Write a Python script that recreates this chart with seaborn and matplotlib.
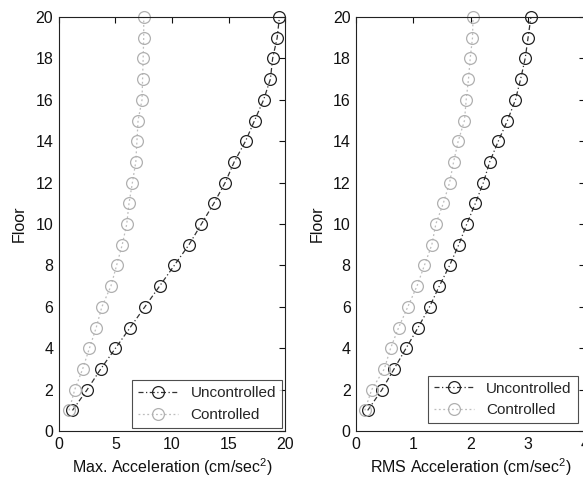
import numpy as np
import pandas as pd
import matplotlib
matplotlib.use("Agg")
import matplotlib.pyplot as plt
import seaborn as sns

floors = list(range(1, 21))
max_uncontrolled = [1.2, 2.5, 3.7, 5.0, 6.3, 7.6, 8.9, 10.2, 11.5, 12.6,
                    13.7, 14.7, 15.5, 16.5, 17.3, 18.1, 18.7, 18.9, 19.3, 19.5]
max_controlled = [0.9, 1.4, 2.1, 2.7, 3.3, 3.8, 4.6, 5.1, 5.6, 6.0,
                  6.2, 6.5, 6.8, 6.9, 7.0, 7.35, 7.4, 7.45, 7.5, 7.5]
rms_uncontrolled = [0.20, 0.45, 0.66, 0.87, 1.08, 1.28, 1.45, 1.63, 1.79, 1.93,
                    2.08, 2.22, 2.33, 2.48, 2.64, 2.78, 2.87, 2.95, 3.00, 3.05]
rms_controlled = [0.15, 0.27, 0.49, 0.60, 0.74, 0.90, 1.06, 1.19, 1.32, 1.39,
                  1.52, 1.63, 1.70, 1.78, 1.89, 1.92, 1.96, 1.99, 2.03, 2.04]
series_names = ["Uncontrolled", "Controlled"]
xlabels = ["Max. Acceleration (cm/sec$^2$)", "RMS Acceleration (cm/sec$^2$)"]
ylabel = "Floor"
xlims = [(0, 20), (0, 4)]
xticks = [[0, 5, 10, 15, 20], [0, 1, 2, 3, 4]]
yticks = list(range(0, 21, 2))

sns.set_theme(style="white")
plt.rcParams["font.family"] = ["Liberation Sans", "DejaVu Sans"]
plt.rcParams["font.size"] = 11.5
plt.rcParams["mathtext.fontset"] = "custom"
plt.rcParams["mathtext.rm"] = "Liberation Sans"

fig = plt.figure(figsize=(5.83, 4.79), dpi=100)
ax1 = fig.add_axes([0.101, 0.100, 0.388, 0.8645])
ax2 = fig.add_axes([0.611, 0.100, 0.393, 0.8645])

data = [(max_uncontrolled, max_controlled), (rms_uncontrolled, rms_controlled)]
styles = [
    dict(color="#333333", linestyle=(0, (4, 2, 1, 2)), lw=0.9, mec="#222222"),
    dict(color="#bdbdbd", linestyle=(0, (1.5, 2)), lw=0.9, mec="#b0b0b0"),
]

for i, ax in enumerate([ax1, ax2]):
    for name, vals, st in zip(series_names, data[i], styles):
        df = pd.DataFrame({"x": vals, "Floor": floors})
        sns.lineplot(data=df, x="x", y="Floor", sort=False, estimator=None,
                     ax=ax, color=st["color"], linestyle=st["linestyle"],
                     lw=st["lw"], marker="o", markersize=8.5,
                     markerfacecolor="none", markeredgecolor=st["mec"],
                     markeredgewidth=0.9, label=name, clip_on=False)
    ax.set_xlim(*xlims[i])
    ax.set_ylim(0, 20)
    ax.set_xticks(xticks[i])
    ax.set_yticks(yticks)
    ax.set_xlabel(xlabels[i], fontsize=11.5, color="#111111", labelpad=3)
    ax.set_ylabel(ylabel, fontsize=11.5, color="#111111", labelpad=6)
    ax.tick_params(direction="in", length=4, width=0.8, top=True, right=True,
                   labelsize=11.5, colors="#111111", pad=4)
    for s in ax.spines.values():
        s.set_visible(True)
        s.set_color("#222222")
        s.set_linewidth(0.8)
    pad = 0.2 if i == 0 else 0.5
    leg = ax.legend(loc="lower right", fancybox=False, frameon=True,
                    fontsize=11, borderaxespad=pad, handlelength=2.6,
                    borderpad=0.4, labelspacing=0.5, handletextpad=0.8)
    leg.get_frame().set_edgecolor("#222222")
    leg.get_frame().set_linewidth(0.8)

fig.savefig("out.png", dpi=100, facecolor="white")
